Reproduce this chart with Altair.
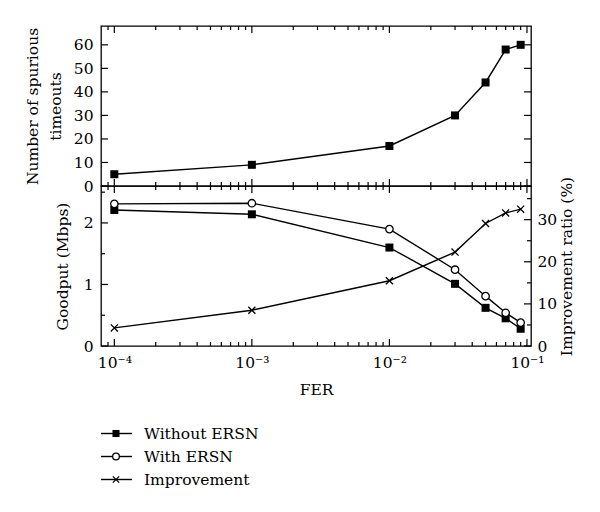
import altair as alt
import pandas as pd

# ---- data ----
fer = [1e-4, 1e-3, 1e-2, 0.03, 0.05, 0.07, 0.09]
spurious = [5, 9, 17, 30, 44, 58, 60]
goodput_without = [2.21, 2.14, 1.60, 1.01, 0.62, 0.45, 0.28]
goodput_with = [2.31, 2.32, 1.90, 1.24, 0.81, 0.54, 0.38]
improvement = [4.3, 8.5, 15.5, 22.3, 29.1, 31.6, 32.5]
series_names = ["Without ERSN", "With ERSN", "Improvement"]

# tick values
x_major = [1e-4, 1e-3, 1e-2, 1e-1]
x_minor = [9e-5] + [m * 10.0 ** e for e in (-4, -3, -2) for m in range(2, 10)]
top_vals = [0, 10, 20, 30, 40, 50, 60]
good_major = [0, 1, 2]
good_minor = [0.5, 1.5, 2.5]
imp_major = [0, 10, 20, 30]
imp_minor = [5, 15, 25, 35]

W, H1, H2 = 430, 160, 160
MAJ, MIN = 7, 4
FONT = "DejaVu Serif"
FS = 15.5

df_top = pd.DataFrame({"fer": fer, "spurious": spurious})
df_good = pd.DataFrame({
    "fer": fer + fer,
    "goodput": goodput_without + goodput_with,
    "series": [series_names[0]] * len(fer) + [series_names[1]] * len(fer),
})
df_imp = pd.DataFrame({"fer": fer, "improvement": improvement})
df_leg = pd.DataFrame({"series": series_names})

xscale = alt.Scale(type="log", domain=[8e-5, 0.107], nice=False)
s_top = alt.Scale(domain=[0, 68], nice=False, zero=False)
s_good = alt.Scale(domain=[0, 2.6], nice=False, zero=False)
s_imp = alt.Scale(domain=[0, 38], nice=False, zero=False)
CROSS = "M-1,-1L1,1M-1,1L1,-1"


def label_axis(orient, values, title, **kw):
    return alt.Axis(orient=orient, values=values, ticks=False, tickSize=0,
                    domain=False, grid=False, title=title, **kw)


def xticks(values, y0, y1):
    return alt.Chart(pd.DataFrame({"v": values})).mark_rule(
        color="black", strokeWidth=1.2).encode(
        x=alt.X("v:Q", scale=xscale, axis=None), y=alt.value(y0), y2=alt.value(y1))


def yticks(values, scale, x0, x1):
    return alt.Chart(pd.DataFrame({"v": values})).mark_rule(
        color="black", strokeWidth=1.2).encode(
        y=alt.Y("v:Q", scale=scale, axis=None), x=alt.value(x0), x2=alt.value(x1))


def frame_ticks(H):
    return [xticks(x_major, H, H - MAJ), xticks(x_minor, H, H - MIN),
            xticks(x_major, 0, MAJ), xticks(x_minor, 0, MIN)]


x_label_expr = ("'10' + (datum.value < 5e-4 ? '⁻⁴' : datum.value < 5e-3 ? '⁻³' : "
                "datum.value < 5e-2 ? '⁻²' : '⁻¹')")

# ---- top panel ----
t1 = alt.Chart(df_top).mark_line(color="black", strokeWidth=1.4).encode(
    x=alt.X("fer:Q", scale=xscale, axis=None),
    y=alt.Y("spurious:Q", scale=s_top,
            axis=label_axis("left", top_vals, ["Number of spurious", "timeouts"],
                            labelPadding=8, titlePadding=10, titleLineHeight=23)),
)
t2 = alt.Chart(df_top).mark_square(color="black", size=64, opacity=1).encode(
    x=alt.X("fer:Q", scale=xscale, axis=None),
    y=alt.Y("spurious:Q", scale=s_top, axis=None),
)
top = alt.layer(
    t1, t2, *frame_ticks(H1),
    yticks(top_vals, s_top, 0, MAJ), yticks(top_vals, s_top, W, W - MAJ),
).resolve_scale(x="independent", y="independent").properties(width=W, height=H1)

# ---- bottom panel ----
b1 = alt.Chart(df_good).mark_line(color="black", strokeWidth=1.4).encode(
    x=alt.X("fer:Q", scale=xscale,
            axis=label_axis("bottom", x_major, "FER", labelExpr=x_label_expr,
                            labelPadding=9, titlePadding=12)),
    y=alt.Y("goodput:Q", scale=s_good,
            axis=label_axis("left", good_major, "Goodput (Mbps)",
                            labelPadding=8, titlePadding=13)),
    detail="series:N",
)
b2 = alt.Chart(df_good).transform_filter(alt.datum.series == series_names[0]).mark_square(
    color="black", size=64, opacity=1).encode(
    x=alt.X("fer:Q", scale=xscale, axis=None),
    y=alt.Y("goodput:Q", scale=s_good, axis=None),
)
b3 = alt.Chart(df_good).transform_filter(alt.datum.series == series_names[1]).mark_point(
    shape="circle", filled=True, fill="white", stroke="black", strokeWidth=1.3,
    size=55, opacity=1).encode(
    x=alt.X("fer:Q", scale=xscale, axis=None),
    y=alt.Y("goodput:Q", scale=s_good, axis=None),
)
b4 = alt.Chart(df_imp).mark_line(color="black", strokeWidth=1.4).encode(
    x=alt.X("fer:Q", scale=xscale, axis=None),
    y=alt.Y("improvement:Q", scale=s_imp,
            axis=label_axis("right", imp_major, "Improvement ratio (%)", labelPadding=6,
                            titlePadding=3, titleAngle=270, titleBaseline="top")),
)
b5 = alt.Chart(df_imp).mark_point(shape=CROSS, filled=False, stroke="black",
                                   strokeWidth=1.3, size=50, opacity=1).encode(
    x=alt.X("fer:Q", scale=xscale, axis=None),
    y=alt.Y("improvement:Q", scale=s_imp, axis=None),
)
bottom = alt.layer(
    b1, b2, b3, b4, b5, *frame_ticks(H2),
    yticks(good_major, s_good, 0, MAJ), yticks(good_minor, s_good, 0, MIN),
    yticks(imp_major, s_imp, W, W - MAJ), yticks(imp_minor, s_imp, W, W - MIN),
).resolve_scale(x="independent", y="independent").properties(width=W, height=H2)

# ---- legend panel ----
leg_y = alt.Y("series:N", sort=series_names, axis=None,
              scale=alt.Scale(type="point", padding=0.5))
l_rule = alt.Chart(df_leg).mark_rule(color="black", strokeWidth=1.4).encode(
    y=leg_y, x=alt.value(0), x2=alt.value(31))
l_sq = alt.Chart(df_leg).transform_filter(alt.datum.series == series_names[0]).mark_square(
    color="black", size=50, opacity=1).encode(y=leg_y, x=alt.value(15))
l_ci = alt.Chart(df_leg).transform_filter(alt.datum.series == series_names[1]).mark_point(
    shape="circle", filled=True, fill="white", stroke="black", strokeWidth=1.3,
    size=45, opacity=1).encode(y=leg_y, x=alt.value(15))
l_cr = alt.Chart(df_leg).transform_filter(alt.datum.series == series_names[2]).mark_point(
    shape=CROSS, filled=False, stroke="black", strokeWidth=1.3, size=40,
    opacity=1).encode(y=leg_y, x=alt.value(15))
l_txt = alt.Chart(df_leg).mark_text(align="left", baseline="middle", font=FONT,
                                    fontSize=FS, color="black").encode(
    y=leg_y, x=alt.value(43), text="series:N")
legend = alt.layer(l_rule, l_sq, l_ci, l_cr, l_txt).properties(
    width=W, height=69, view=alt.ViewBackground(stroke="transparent"))

chart = alt.vconcat(
    alt.vconcat(top, bottom, spacing=0, bounds="flush"), legend, spacing=22
).properties(
    padding={"left": 16, "top": 16, "right": 5, "bottom": 5}
).configure_view(stroke="black", strokeWidth=1.3).configure_axis(
    labelFont=FONT, labelFontSize=FS, labelColor="black",
    titleFont=FONT, titleFontSize=FS, titleColor="black", titleFontWeight="normal",
)

chart.save("out.html", embed_options={"renderer": "svg", "actions": False})
